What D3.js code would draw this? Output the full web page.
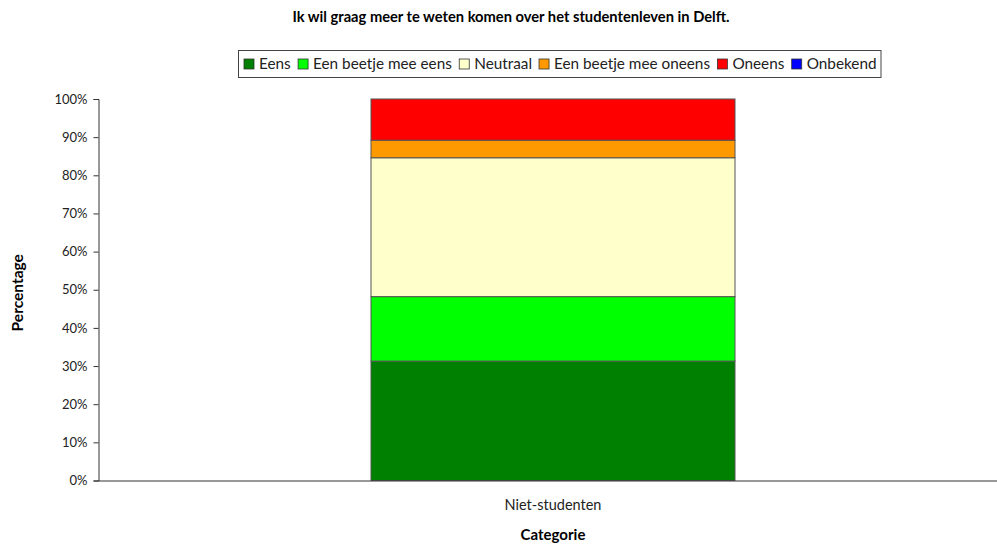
<!DOCTYPE html>
<html>
  <head>
    <meta charset="utf-8">
    <title>Studentenleven</title>
    <style>
      body{margin:0; background:#fff;}
      svg{font-family: Lato, "Open Sans", sans-serif; display:block;}
    </style>
    <script src="https://d3js.org/d3.v7.min.js"></script>
  </head>
  <body>
    <script>

        var categories = ["Niet-studenten"];
        var series = ["Eens", "Een beetje mee eens", "Neutraal", "Een beetje mee oneens", "Oneens", "Onbekend"];
        var colors = ["#008000", "#00ff00", "#ffffcc", "#ff9900", "#ff0000", "#0000ff"];
        // percentage per serie, for "Niet-studenten"
        var values = [31.3, 16.9, 36.4, 4.6, 10.8, 0];
        var ticks = [0, 10, 20, 30, 40, 50, 60, 70, 80, 90, 100];

        var width = 997, height = 546;
        var margin = {top: 99, left: 98, bottom: 65, right: -11};

        var svg = d3.select("body").append("svg")
            .attr("width", width)
            .attr("height", height);

        var x = d3.scaleBand()
            .domain(categories)
            .range([margin.left, width - margin.right])
            .paddingInner(0).paddingOuter(0);

        var y = d3.scaleLinear()
            .domain([0, 100])
            .range([height - margin.bottom - 0.5, margin.top]);

        // stack the data
        var row = {cat: categories[0]};
        series.forEach(function (s, i) { row[s] = values[i]; });
        var stacked = d3.stack().keys(series)([row]);

        var barW = x.bandwidth() * 0.4;

        svg.append("g").selectAll("g")
            .data(stacked)
            .enter().append("g")
            .attr("fill", function (d, i) { return colors[i]; })
            .selectAll("rect")
            .data(function (d) { return d; })
            .enter().append("rect")
            .attr("x", function (d) { return x(d.data.cat) + (x.bandwidth() - barW) / 2; })
            .attr("width", barW)
            .attr("y", function (d) { return y(d[1]); })
            .attr("height", function (d) { return Math.max(0, y(d[0]) - y(d[1])); })
            .attr("stroke", function (d) { return d[1] - d[0] > 0 ? "#555" : "none"; })
            .attr("stroke-width", 1);

        // y axis
        var yAxis = svg.append("g")
            .attr("transform", "translate(" + (margin.left + 0.5) + ",0)")
            .call(d3.axisLeft(y).tickValues(ticks).tickSize(5).tickPadding(6)
                .tickFormat(function (d) { return d + "%"; }));
        yAxis.selectAll("text").attr("font-size", 13).attr("fill", "#222").attr("font-family", "Lato, sans-serif");
        yAxis.selectAll("line, path").attr("stroke", "#333");

        // x axis
        var xAxis = svg.append("g")
            .attr("transform", "translate(0," + (y(0) ) + ")")
            .call(d3.axisBottom(x).tickSize(0).tickPadding(19));
        xAxis.selectAll("text").attr("font-size", 14.5).attr("fill", "#222").attr("font-family", "Lato, sans-serif");
        xAxis.select("path").attr("stroke", "#333");

        // titles
        svg.append("text")
            .attr("x", 511).attr("y", 22)
            .attr("text-anchor", "middle")
            .attr("font-size", 14.7).attr("font-weight", "bold")
            .text("Ik wil graag meer te weten komen over het studentenleven in Delft.");

        svg.append("text")
            .attr("x", x(categories[0]) + x.bandwidth() / 2).attr("y", 540)
            .attr("text-anchor", "middle")
            .attr("font-size", 15).attr("font-weight", "bold")
            .text("Categorie");

        svg.append("text")
            .attr("transform", "translate(23," + ((y(0) + y(100)) / 2 + 3) + ") rotate(-90)")
            .attr("text-anchor", "middle")
            .attr("font-size", 15.5).attr("font-weight", "bold")
            .text("Percentage");

        // legend
        var legend = svg.append("g");
        var lx = 244, ly = 64;
        var items = legend.selectAll("g")
            .data(series)
            .enter().append("g");
        items.append("rect")
            .attr("width", 10).attr("height", 10)
            .attr("y", ly - 5)
            .attr("fill", function (d, i) { return colors[i]; })
            .attr("stroke", "#333").attr("stroke-width", 0.8);
        items.append("text")
            .attr("x", 15).attr("y", ly + 5)
            .attr("font-size", 15.3).attr("fill", "#222")
            .text(function (d) { return d; });
        items.each(function () {
            d3.select(this).attr("transform", "translate(" + lx + ",0)");
            lx += this.getBBox().width + 7;
        });
        legend.insert("rect", ":first-child")
            .attr("x", 238.5).attr("y", 50.5)
            .attr("width", lx - 238 - 3).attr("height", 27)
            .attr("fill", "#fff").attr("stroke", "#444");

    </script>
  </body>
</html>
